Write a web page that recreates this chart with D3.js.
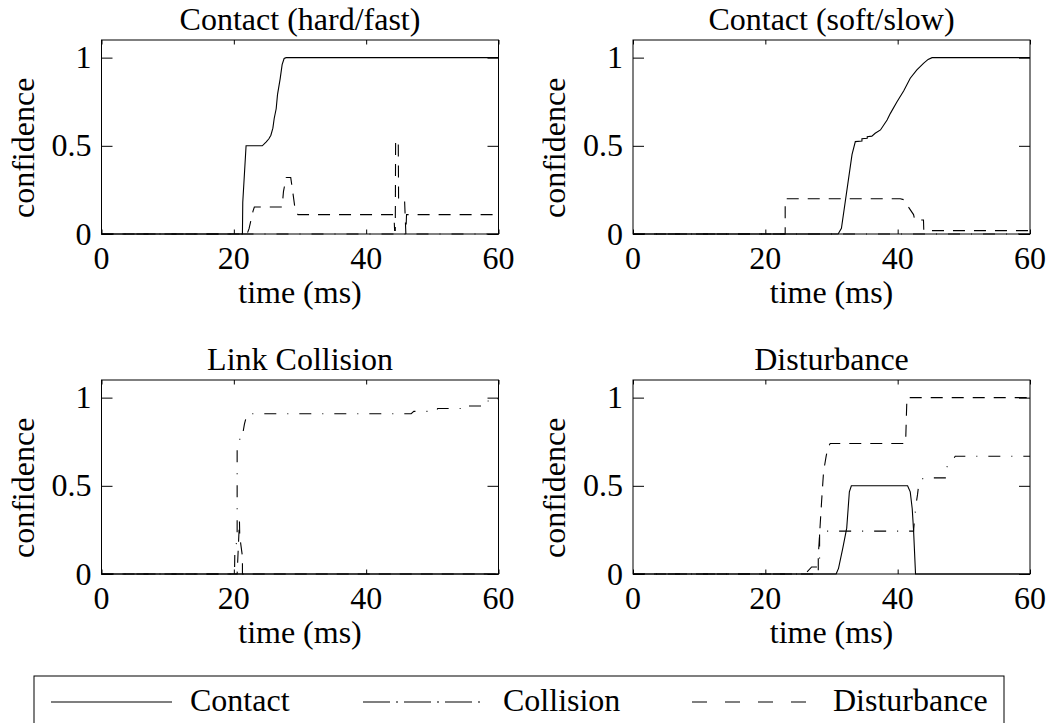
<!DOCTYPE html>
<html>
<head>
<meta charset="utf-8">
<script src="https://cdn.jsdelivr.net/npm/d3@7"></script>
<style>
  body { margin: 0; background: #fff; }
  svg { display: block; }
</style>
</head>
<body>
<svg id="chart" width="1048" height="723"></svg>
<script>
// ---- data (time in ms, confidence 0..1) ----
const xTicks = [0, 20, 40, 60];
const yTicks = [0, 0.5, 1];
const yTickLabels = ["0", "0.5", "1"];
const seriesNames = ["Contact", "Collision", "Disturbance"];
const panelTitles = ["Contact (hard/fast)", "Contact (soft/slow)", "Link Collision", "Disturbance"];

const hardContact = [[0, 0], [21.3, 0], [21.35, 0.18], [21.85, 0.5], [24.3, 0.5], [24.9, 0.523], [25.3, 0.54],
  [25.6, 0.56], [25.9, 0.6], [26.1, 0.655], [26.4, 0.71], [26.6, 0.79], [27.0, 0.88], [27.3, 0.96],
  [27.6, 0.995], [27.9, 1], [60, 1]];
const hardCollision = [[0, 0], [60, 0]];
const hardDisturbance = [[0, 0], [22.0, 0], [22.3, 0.03], [22.6, 0.08], [22.9, 0.13], [23.1, 0.153], [27.3, 0.153],
  [27.5, 0.24], [27.9, 0.32], [28.6, 0.32], [28.9, 0.24], [29.3, 0.13], [29.7, 0.11], [44.2, 0.11],
  [44.3, 0.02], [44.4, 0.02], [44.45, 0.53], [44.85, 0.53], [44.9, 0.196], [45.8, 0.196], [46.0, 0],
  [46.1, 0.11], [60, 0.11]];

const softContact = [[0, 0], [31.0, 0], [31.5, 0.032], [33.1, 0.45], [33.6, 0.524], [34.6, 0.527], [34.6, 0.54],
  [35.4, 0.543], [35.4, 0.552], [36.1, 0.555], [36.6, 0.571], [37.4, 0.59], [38.4, 0.646], [38.9, 0.684],
  [39.9, 0.75], [40.9, 0.811], [41.9, 0.883], [42.9, 0.93], [43.9, 0.968], [44.6, 0.99], [45.2, 1], [60, 1]];
const softCollision = [[0, 0], [60, 0]];
const softDisturbance = [[0, 0], [23.0, 0], [23.0, 0.2], [40.4, 0.2], [40.9, 0.195], [41.2, 0.18], [41.5, 0.16],
  [42.4, 0.11], [42.6, 0.079], [43.9, 0.079], [43.95, 0.019], [60, 0.019]];

const linkContact = [[0, 0], [60, 0]];
const linkCollision = [[0, 0], [20.1, 0], [20.15, 0.12], [20.5, 0.2], [20.5, 0.72], [20.9, 0.757], [20.9, 0.806],
  [21.4, 0.806], [21.6, 0.85], [22.0, 0.909], [46.8, 0.909], [47.2, 0.922], [50.6, 0.922], [50.8, 0.938],
  [54.3, 0.938], [54.3, 0.953], [57.5, 0.953], [57.6, 0.966], [58.1, 0.966], [58.1, 0.981], [58.6, 0.981],
  [58.6, 0.994], [60, 0.994]];
const linkDisturbance = [[0, 0], [20.5, 0], [20.85, 0.3], [20.9, 0.21], [21.3, 0.1], [21.3, 0], [60, 0]];

const distContact = [[0, 0], [30.7, 0], [31.06, 0.032], [31.7, 0.145], [32.3, 0.26], [32.7, 0.466], [33.0, 0.5],
  [41.5, 0.5], [41.9, 0.466], [42.2, 0.37], [42.4, 0.25], [42.7, 0], [60, 0]];
const distCollision = [[0, 0], [26.0, 0], [27.0, 0.04], [28.2, 0.04], [28.2, 0.243], [42.4, 0.243], [42.6, 0.33],
  [42.8, 0.4], [43.0, 0.45], [43.2, 0.513], [43.9, 0.545], [47.2, 0.545], [47.2, 0.6], [48.0, 0.626],
  [48.7, 0.668], [60, 0.668]];
const distDisturbance = [[0, 0], [28.0, 0], [28.0, 0.1], [28.5, 0.41], [28.8, 0.58], [29.2, 0.67], [29.5, 0.72],
  [29.8, 0.74], [41.2, 0.74], [41.4, 1], [60, 1]];

// ---- layout ----
const svg = d3.select("#chart");
const plotW = 397, plotH = 194;
const fontPx = 32;
const fontName = "Liberation Serif";
const dashes = ["none", "12,11,1,11", "12,9"];
const legendDashes = ["none", "27,6,2,6", "15,18"];

const panels = [
  { title: panelTitles[0], left: 101.5, top: 40, data: [hardContact, hardCollision, hardDisturbance] },
  { title: panelTitles[1], left: 633, top: 40, data: [softContact, softCollision, softDisturbance] },
  { title: panelTitles[2], left: 101.5, top: 380, data: [linkContact, linkCollision, linkDisturbance] },
  { title: panelTitles[3], left: 633, top: 380, data: [distContact, distCollision, distDisturbance] }
];

// all text goes straight onto the svg root, styled inline
function addText(x, y, str, anchor, transform) {
  const t = svg.append("text")
    .attr("x", x).attr("y", y)
    .attr("font-family", fontName)
    .attr("font-size", fontPx)
    .attr("fill", "#000")
    .style("font-family", fontName)
    .style("font-size", fontPx + "px")
    .attr("text-anchor", anchor || "start");
  if (transform) t.attr("transform", transform);
  t.text(str);
  return t;
}

function drawPanel(p) {
  const x = d3.scaleLinear().domain([0, 60]).range([p.left, p.left + plotW]);
  const y = d3.scaleLinear().domain([0, 1.1]).range([p.top + plotH, p.top]);
  const g = svg.append("g");

  const line = d3.line().x((d) => x(d[0])).y((d) => y(d[1]));

  // back to front: collision, disturbance, contact
  [1, 2, 0].forEach((i) => {
    g.append("path")
      .datum(p.data[i])
      .attr("d", line)
      .attr("fill", "none")
      .attr("stroke", "#000")
      .attr("stroke-width", 1.1)
      .attr("stroke-dasharray", dashes[i]);
  });

  // inward tick marks on all four sides, labels drawn separately
  const axes = [
    g.append("g").attr("transform", `translate(0,${p.top + plotH})`)
      .call(d3.axisBottom(x).tickValues(xTicks).tickSize(-4.5).tickFormat("")),
    g.append("g").attr("transform", `translate(0,${p.top})`)
      .call(d3.axisTop(x).tickValues(xTicks).tickSize(-4.5).tickFormat("")),
    g.append("g").attr("transform", `translate(${p.left},0)`)
      .call(d3.axisLeft(y).tickValues(yTicks).tickSize(-11).tickFormat("")),
    g.append("g").attr("transform", `translate(${p.left + plotW},0)`)
      .call(d3.axisRight(y).tickValues(yTicks).tickSize(-11).tickFormat(""))
  ];
  axes.forEach((a) => {
    a.select(".domain").remove();
    a.selectAll("text").remove();
    a.selectAll("line").attr("stroke", "#000").attr("stroke-width", 1);
  });

  g.append("rect")
    .attr("x", p.left).attr("y", p.top)
    .attr("width", plotW).attr("height", plotH)
    .attr("fill", "none").attr("stroke", "#000").attr("stroke-width", 1);

  xTicks.forEach((v) => addText(x(v), p.top + plotH + 35, String(v), "middle"));
  yTicks.forEach((v, i) => addText(p.left - 10, y(v) + 10.5, yTickLabels[i], "end"));

  addText(p.left + plotW / 2, p.top - 10, p.title, "middle");
  addText(p.left + plotW / 2, p.top + plotH + 69, "time (ms)", "middle");

  const ly = y(0.5) + 2;
  addText(0, 0, "confidence", "middle", `translate(${p.left - 68},${ly}) rotate(-90)`);
}

panels.forEach(drawPanel);

// ---- legend ----
svg.append("rect")
  .attr("x", 34).attr("y", 676).attr("width", 970).attr("height", 52)
  .attr("fill", "none").attr("stroke", "#000").attr("stroke-width", 1);

const legendItems = [
  { x0: 51, x1: 172, tx: 190 },
  { x0: 363, x1: 485, tx: 503 },
  { x0: 692, x1: 817, tx: 833 }
];
legendItems.forEach((it, i) => {
  svg.append("line")
    .attr("x1", it.x0).attr("x2", it.x1).attr("y1", 702).attr("y2", 702)
    .attr("stroke", "#000").attr("stroke-width", 1.1)
    .attr("stroke-dasharray", legendDashes[i]);
  addText(it.tx, 711, seriesNames[i]);
});
</script>
</body>
</html>
